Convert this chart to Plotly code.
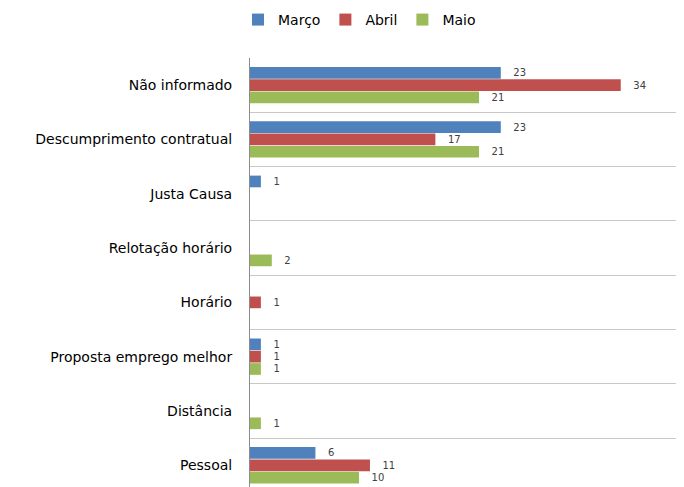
import plotly.graph_objects as go

categories = ["Não informado", "Descumprimento contratual", "Justa Causa",
              "Relotação horário", "Horário", "Proposta emprego melhor",
              "Distância", "Pessoal"]
marco = [23, 23, 1, None, None, 1, None, 6]
abril = [34, 17, None, None, 1, 1, None, 11]
maio = [21, 21, None, 2, None, 1, 1, 10]

series = [("Março", marco, "#4F81BD"), ("Abril", abril, "#C0504D"), ("Maio", maio, "#9BBB59")]

fig = go.Figure()
for name, vals, color in series:
    fig.add_trace(go.Bar(
        y=categories, x=vals, name=name, orientation="h",
        marker=dict(color=color, line=dict(width=0)),
        texttemplate="\u00a0\u00a0\u00a0%{x}", textposition="outside",
        textfont=dict(size=10, color="#404040", family="DejaVu Sans"),
        cliponaxis=False,
    ))

fig.update_layout(
    width=676, height=479,
    margin=dict(l=242, r=0, t=50, b=0, autoexpand=False),
    paper_bgcolor="white", plot_bgcolor="white",
    barmode="group", bargap=0.32, bargroupgap=0.05,
    font=dict(family="DejaVu Sans", color="#000000"),
    legend=dict(orientation="h", xref="container", x=0.52, xanchor="center",
                yref="container", y=0.975, yanchor="middle",
                font=dict(size=14, color="#000000"), itemwidth=30,
                traceorder="normal"),
    showlegend=True,
)
fig.update_xaxes(range=[0, 39.8], showgrid=False, showticklabels=False,
                 zeroline=False, showline=False, automargin=False)
fig.update_yaxes(range=[7.4, -0.5], tickson="boundaries", showgrid=True,
                 gridcolor="#C8C8C8", gridwidth=1, showline=True,
                 linecolor="#8C8C8C", linewidth=1, ticks="",
                 tickfont=dict(size=14, color="#000000"),
                 ticklabelstandoff=14, automargin=False)

fig.write_html("out.html")
